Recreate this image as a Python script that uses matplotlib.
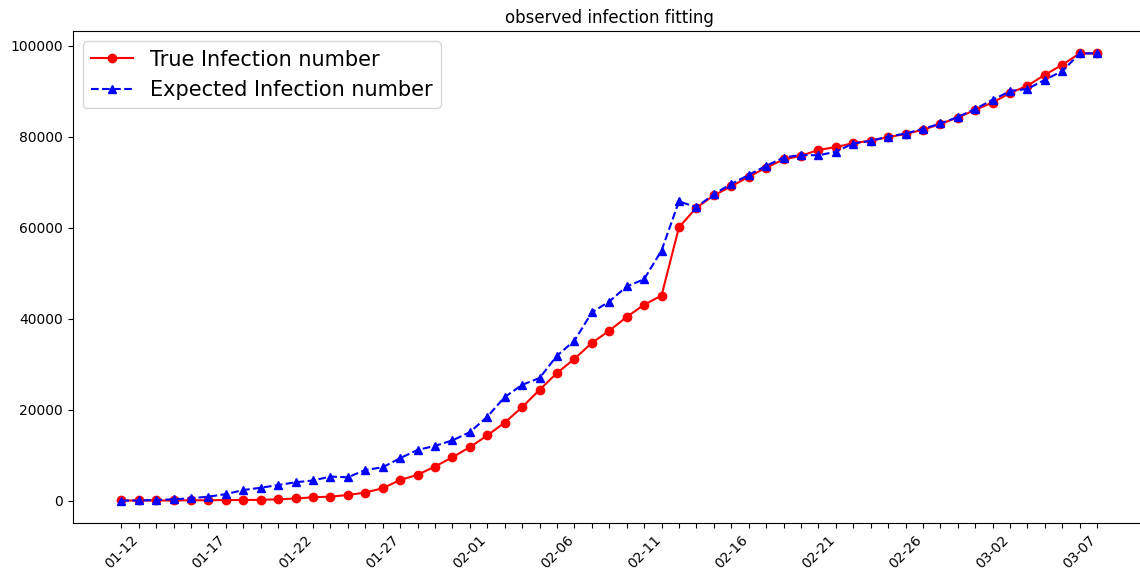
import pandas as pd
import matplotlib
matplotlib.use('Agg')
import matplotlib.pyplot as plt

# daily dates shown on the x axis
dates = pd.date_range('2020-01-12', '2020-03-08', freq='D')
date_labels = [d.strftime('%m-%d') for d in dates]

true_infection = [100, 100, 100, 100, 150, 150, 200, 200, 250, 350,
                  550, 800, 950, 1300, 1850, 2800, 4600, 5750, 7550, 9600,
                  11800, 14400, 17200, 20600, 24400, 28100, 31200, 34700, 37400, 40400,
                  43100, 45100, 60100, 64400, 67100, 69100, 71200, 73200, 75000, 75800,
                  77100, 77700, 78600, 79100, 79900, 80600, 81500, 82800, 84200, 85900,
                  87500, 89600, 91200, 93600, 95800, 98300, 98300]

expected_infection = [70, 100, 220, 370, 590, 950, 1500, 2400, 2900, 3500,
                      4100, 4500, 5350, 5200, 6800, 7400, 9400, 11200, 12100, 13300,
                      15100, 18500, 22800, 25500, 27000, 31900, 35200, 41400, 43800, 47100,
                      48700, 55000, 65800, 64500, 67400, 69600, 71600, 73600, 75400, 76000,
                      75900, 76700, 78500, 79100, 80000, 80700, 81700, 82900, 84300, 86100,
                      88100, 90000, 90500, 92500, 94400, 98300, 98300]

fig = plt.figure(figsize=(11.4, 5.75), dpi=100)
# the reference is cropped just before the right spine
ax = fig.add_axes([72.5 / 1140, 52 / 575, (1146 - 72.5) / 1140, (544 - 52) / 575])

x = list(range(len(dates)))
ax.plot(x, true_infection, 'ro-', label='True Infection number')
ax.plot(x, expected_infection, 'b^--', label='Expected Infection number')

ax.set_xticks(x)
ax.set_xticklabels([lab if i % 5 == 0 else '' for i, lab in enumerate(date_labels)], rotation=45)
ax.set_title('observed infection fitting')
ax.legend(loc='upper left', fontsize=15)

fig.savefig('out.png', dpi=100)
